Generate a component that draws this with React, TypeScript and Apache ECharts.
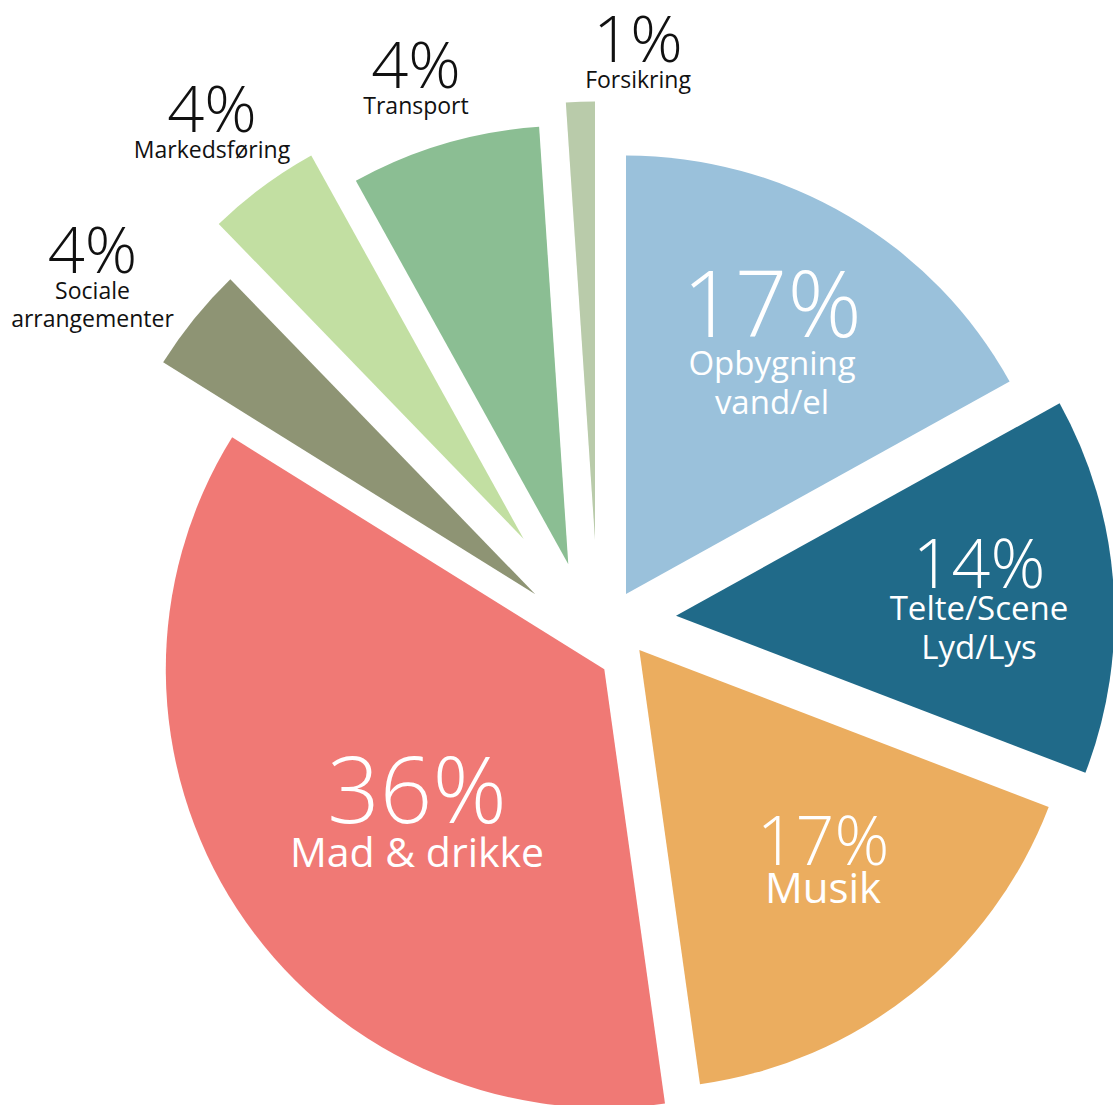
import React, { useEffect, useRef } from "react";
import * as echarts from "echarts";

// ---- data ----
const categories = [
  "Opbygning vand/el",
  "Telte/Scene Lyd/Lys",
  "Musik",
  "Mad & drikke",
  "Sociale arrangementer",
  "Markedsføring",
  "Transport",
  "Forsikring",
];
const nameLines = [
  ["Opbygning", "vand/el"],
  ["Telte/Scene", "Lyd/Lys"],
  ["Musik"],
  ["Mad & drikke"],
  ["Sociale", "arrangementer"],
  ["Markedsføring"],
  ["Transport"],
  ["Forsikring"],
];
const values = [16.95, 13.88, 16.96, 36.08, 3.89, 4.19, 6.99, 1.06];
// percentages as printed on the chart
const percentLabels = ["17%", "14%", "17%", "36%", "4%", "4%", "4%", "1%"];

// ---- styling / layout ----
const colors = [
  "#9AC1DB",
  "#206A89",
  "#EBAD5F",
  "#F07975",
  "#8E9474",
  "#C2DFA2",
  "#8BBE93",
  "#B9CBAA",
];
const pieRadius = 438.5;
const pieCenter = [600, 610];
// explode shift of each slice from the common centre
const explode = [
  [26, -16],
  [76, 5.7],
  [39.3, 40],
  [4.3, 59.3],
  [-64.7, -15.7],
  [-76.3, -71],
  [-31.7, -45.7],
  [-5, -70],
];
// label block anchor (centre x, top y)
const labelAnchors = [
  [772, 260.5],
  [979, 535.2],
  [823, 813.2],
  [417, 747.4],
  [92.5, 219],
  [212, 78],
  [416, 34.2],
  [638, 8],
];
const labelSizes = [
  { p: 92, lp: 82.2, n: 33, ln: 39 },
  { p: 68, lp: 53.4, n: 33, ln: 38.6 },
  { p: 68, lp: 50.8, n: 42, ln: 46 },
  { p: 92, lp: 80.4, n: 41, ln: 46 },
  { p: 65, lp: 57.5, n: 23, ln: 27.6 },
  { p: 65, lp: 57.5, n: 23, ln: 27.6 },
  { p: 65, lp: 57.5, n: 23, ln: 27.6 },
  { p: 65, lp: 57.5, n: 23, ln: 27.6 },
];
const insideColor = "#ffffff";
const outsideColor = "#111111";
const FONT = "'Open Sans', 'Noto Sans', sans-serif";

export default function App() {
  const ref = useRef<HTMLDivElement>(null);

  useEffect(() => {
    if (!ref.current) return;
    const chart = echarts.init(ref.current, null, { renderer: "svg" });

    const series = values.map((_, i) => {
      const s = labelSizes[i];
      const textColor = i < 4 ? insideColor : outsideColor;
      return {
        type: "pie",
        name: categories[i],
        radius: pieRadius,
        center: [pieCenter[0] + explode[i][0], pieCenter[1] + explode[i][1]],
        startAngle: 90,
        clockwise: true,
        avoidLabelOverlap: false,
        silent: true,
        selectedMode: false,
        animation: false,
        label: {
          show: true,
          position: "inside",
          formatter: () =>
            [`{p|${percentLabels[i]}}`, ...nameLines[i].map((t) => `{n|${t}}`)].join("\n"),
          rich: {
            p: {
              fontFamily: FONT,
              fontWeight: 300,
              fontSize: s.p,
              lineHeight: s.lp,
              color: textColor,
              align: "center",
            },
            n: {
              fontFamily: FONT,
              fontWeight: 400,
              fontSize: s.n,
              lineHeight: s.ln,
              color: textColor,
              align: "center",
            },
          },
        },
        labelLine: { show: false },
        labelLayout: {
          x: labelAnchors[i][0],
          y: labelAnchors[i][1],
          align: "center",
          verticalAlign: "top",
        },
        itemStyle: { borderWidth: 0 },
        emphasis: { disabled: true },
        data: values.map((v, j) => ({
          name: categories[j],
          value: v,
          itemStyle: {
            color: j === i ? colors[i] : "rgba(0,0,0,0)",
            borderWidth: 0,
          },
          label: { show: j === i },
        })),
      };
    });

    chart.setOption({
      animation: false,
      backgroundColor: "#ffffff",
      tooltip: { show: false },
      series,
    });

    return () => {
      chart.dispose();
    };
  }, []);

  return (
    <div
      ref={ref}
      style={{ position: "absolute", left: 0, top: 0, width: 1113, height: 1105 }}
    />
  );
}
